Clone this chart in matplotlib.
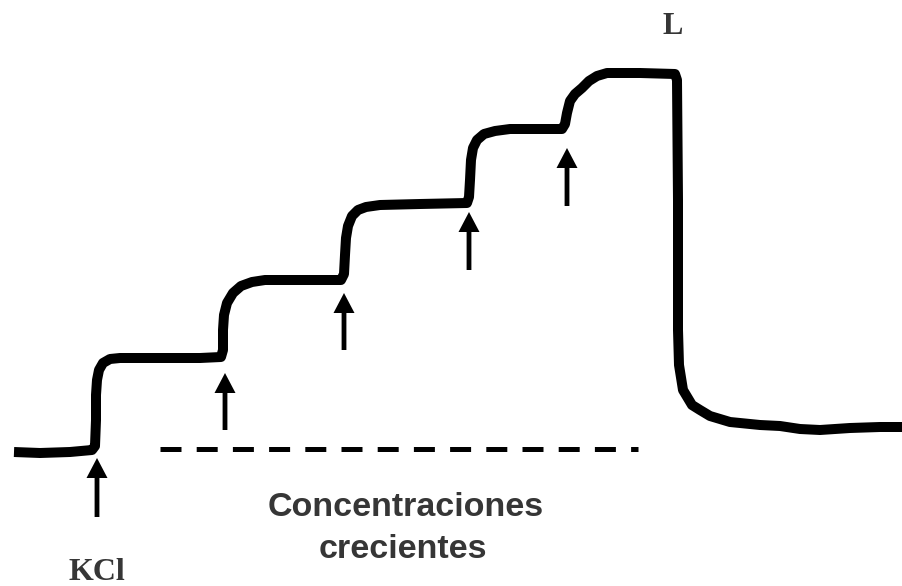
import numpy as np
import matplotlib.pyplot as plt

# Trazo (coordenadas en pixeles de la imagen, y hacia abajo)
trace_x = [14, 40, 70, 92, 95, 96, 96, 97, 99, 103, 110, 120, 160, 200, 221,
           223, 223, 224, 227, 233, 241, 252, 265, 300, 341,
           344, 345, 346, 348, 352, 358, 366, 380, 420, 467,
           469, 470, 471, 473, 477, 484, 495, 510, 562,
           565, 567, 570, 575, 582, 589, 597, 607, 640, 675,
           677, 678, 678, 679, 683, 692, 700, 710, 730, 760, 780, 800, 820, 850, 880, 903]
trace_y = [452, 453, 452, 450, 446, 420, 395, 380, 370, 363, 359, 358, 358, 358, 357,
           350, 330, 315, 303, 293, 286, 282, 280, 280, 280,
           274, 255, 238, 226, 216, 210, 207, 205, 204, 203,
           197, 180, 160, 148, 140, 134, 131, 129, 129,
           124, 113, 101, 94, 88, 81, 76, 73, 73, 74,
           80, 200, 330, 365, 390, 405, 410, 416, 422, 425, 426, 429, 430, 428, 427, 427]

# Flechas: x, extremo inferior, punta
arrow_x = [97, 225, 344, 469, 567]
arrow_tail = [517, 430, 350, 270, 206]
arrow_tip = [458, 373, 293, 212, 148]

# Linea discontinua
dash_x = [160, 638]
dash_y = 449

fig = plt.figure(figsize=(9.03, 5.86), dpi=100)
ax = fig.add_axes([0, 0, 1, 1])
ax.set_xlim(0, 903)
ax.set_ylim(586, 0)
ax.axis('off')

ax.plot(trace_x, trace_y, color='black', lw=7.2, solid_joinstyle='round',
        solid_capstyle='butt')

for x, t, h in zip(arrow_x, arrow_tail, arrow_tip):
    ax.arrow(x, t, 0, h - t, width=4.8, head_width=21, head_length=20,
             length_includes_head=True, color='black', lw=0)

ax.plot(dash_x, [dash_y, dash_y], color='black', lw=3.6,
        dashes=(4.2, 3.04), dash_capstyle='butt')

txt_color = '#363636'
ax.text(97, 572, 'KCl', family='Liberation Serif', weight='bold', fontsize=23,
        color=txt_color, ha='center', va='center')
ax.text(673, 26, 'L', family='Liberation Serif', weight='bold', fontsize=22,
        color=txt_color, ha='center', va='center')
ax.text(406, 508, 'Concentraciones', family='Liberation Sans',
        weight='bold', fontsize=24.5, color=txt_color, ha='center', va='center')
ax.text(403, 550, 'crecientes', family='Liberation Sans',
        weight='bold', fontsize=24.5, color=txt_color, ha='center', va='center')

fig.savefig('out.png', dpi=100)
